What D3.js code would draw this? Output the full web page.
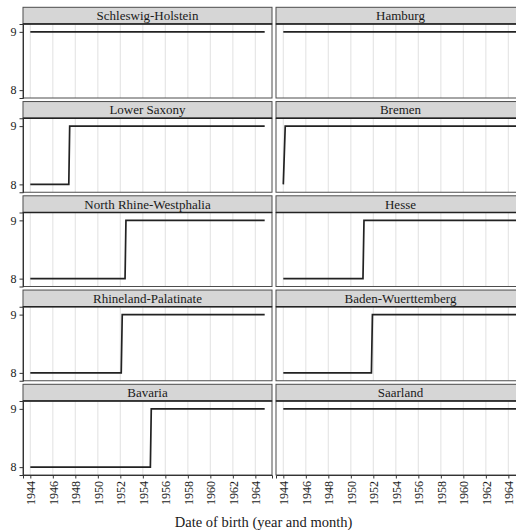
<!DOCTYPE html>
<html>
<head>
<meta charset="utf-8">
<script src="https://cdn.jsdelivr.net/npm/d3@7"></script>
<style>
  html, body { margin: 0; padding: 0; background: #fff; }
  svg text { font-family: "Liberation Serif", "Times New Roman", Times, serif !important; }
</style>
</head>
<body>
<svg id="chart" width="516" height="530"></svg>
<script>
// Federal states, in panel order (row by row, two columns)
const states = [
  "Schleswig-Holstein", "Hamburg",
  "Lower Saxony", "Bremen",
  "North Rhine-Westphalia", "Hesse",
  "Rhineland-Palatinate", "Baden-Wuerttemberg",
  "Bavaria", "Saarland"
];

// Compulsory schooling (years) by date of birth: breakpoints of each step line
const birthDates = [
  [1944.0, 1964.83],
  [1944.0, 1964.83],
  [1944.0, 1947.42, 1947.5, 1964.83],
  [1944.0, 1944.17, 1964.83],
  [1944.0, 1952.42, 1952.5, 1964.83],
  [1944.0, 1951.08, 1951.17, 1964.83],
  [1944.0, 1952.08, 1952.17, 1964.83],
  [1944.0, 1951.83, 1951.92, 1964.83],
  [1944.0, 1954.67, 1954.75, 1964.83],
  [1944.0, 1964.83]
];
const schoolYears = [
  [9, 9],
  [9, 9],
  [8, 8, 9, 9],
  [8, 9, 9],
  [8, 8, 9, 9],
  [8, 8, 9, 9],
  [8, 8, 9, 9],
  [8, 8, 9, 9],
  [8, 8, 9, 9],
  [9, 9]
];

const xTicks = [1944, 1946, 1948, 1950, 1952, 1954, 1956, 1958, 1960, 1962, 1964];
const yTicks = [8, 9];
const xTitle = "Date of birth (year and month)";

// Layout
const svg = d3.select("#chart");
const serif = "'Liberation Serif', 'Times New Roman', Times, serif";
const colLeft = [23, 276];
const panelW = 249;
const stripTop0 = 7.3;
const rowPitch = 94.25;
const stripH = 16.7;
const panelH = 74;

const x = d3.scaleLinear().domain([1943.35, 1965.48]).range([0, panelW]);
const y = d3.scaleLinear().domain([7.865, 9.135]).range([panelH, 0]);

const line = d3.line().x((d) => x(d[0])).y((d) => y(d[1]));

const nRows = Math.ceil(states.length / 2);

states.forEach((name, i) => {
  const row = Math.floor(i / 2), col = i % 2;
  const left = colLeft[col];
  const sTop = stripTop0 + row * rowPitch;
  const pTop = sTop + stripH;

  // strip
  const strip = svg.append("g").attr("transform", `translate(${left},${sTop})`);
  strip.append("rect")
    .attr("width", panelW).attr("height", stripH)
    .attr("fill", "#d6d6d6").attr("stroke", "#4d4d4d").attr("stroke-width", 1);
  strip.append("text")
    .attr("x", panelW / 2).attr("y", stripH / 2 + 4.5)
    .attr("text-anchor", "middle")
    .attr("font-family", serif)
    .attr("font-size", 13).attr("fill", "#1a1a1a")
    .text(name);

  const g = svg.append("g").attr("transform", `translate(${left},${pTop})`);
  g.append("rect").attr("width", panelW).attr("height", panelH).attr("fill", "#fff");

  // vertical grid lines
  g.selectAll("line.grid").data(xTicks).join("line")
    .attr("class", "grid")
    .attr("x1", (d) => x(d)).attr("x2", (d) => x(d))
    .attr("y1", 0).attr("y2", panelH)
    .attr("stroke", "#e6e6e6").attr("stroke-width", 1.2);

  // step line
  const pts = birthDates[i].map((d, k) => [d, schoolYears[i][k]]);
  g.append("path")
    .attr("d", line(pts))
    .attr("fill", "none").attr("stroke", "#222").attr("stroke-width", 1.7);

  // panel border
  g.append("rect").attr("width", panelW).attr("height", panelH)
    .attr("fill", "none").attr("stroke", "#4d4d4d").attr("stroke-width", 1);
  g.append("line").attr("x1", 0).attr("x2", panelW).attr("y1", 0).attr("y2", 0)
    .attr("stroke", "#222").attr("stroke-width", 1.3);

  // y axis on the left column
  if (col === 0) {
    const ya = g.append("g").call(d3.axisLeft(y).tickValues(yTicks).tickFormat(d3.format("d")).tickSize(3.5).tickPadding(3));
    ya.attr("font-family", serif);
    ya.select(".domain").attr("stroke", "#333");
    ya.selectAll(".tick line").attr("stroke", "#333");
    ya.selectAll(".tick text").attr("font-size", 12).attr("fill", "#1a1a1a")
      .attr("font-family", serif);
  }

  // x axis on the bottom row
  if (row === nRows - 1) {
    const xa = g.append("g").attr("transform", `translate(0,${panelH})`)
      .call(d3.axisBottom(x).tickValues(xTicks).tickFormat(d3.format("d")).tickSize(3.5).tickPadding(3));
    xa.attr("font-family", serif);
    xa.select(".domain").attr("stroke", "#333");
    xa.selectAll(".tick line").attr("stroke", "#333");
    xa.selectAll(".tick text")
      .attr("font-size", 12).attr("fill", "#1a1a1a")
      .attr("font-family", serif)
      .attr("transform", "rotate(-90)")
      .attr("text-anchor", "end")
      .attr("x", -6).attr("y", 0).attr("dy", "0.35em");
  }
});

svg.append("text")
  .attr("x", 263.5).attr("y", 527)
  .attr("text-anchor", "middle")
  .attr("font-family", serif)
  .attr("font-size", 14.5).attr("fill", "#1a1a1a")
  .text(xTitle);
</script>
</body>
</html>
